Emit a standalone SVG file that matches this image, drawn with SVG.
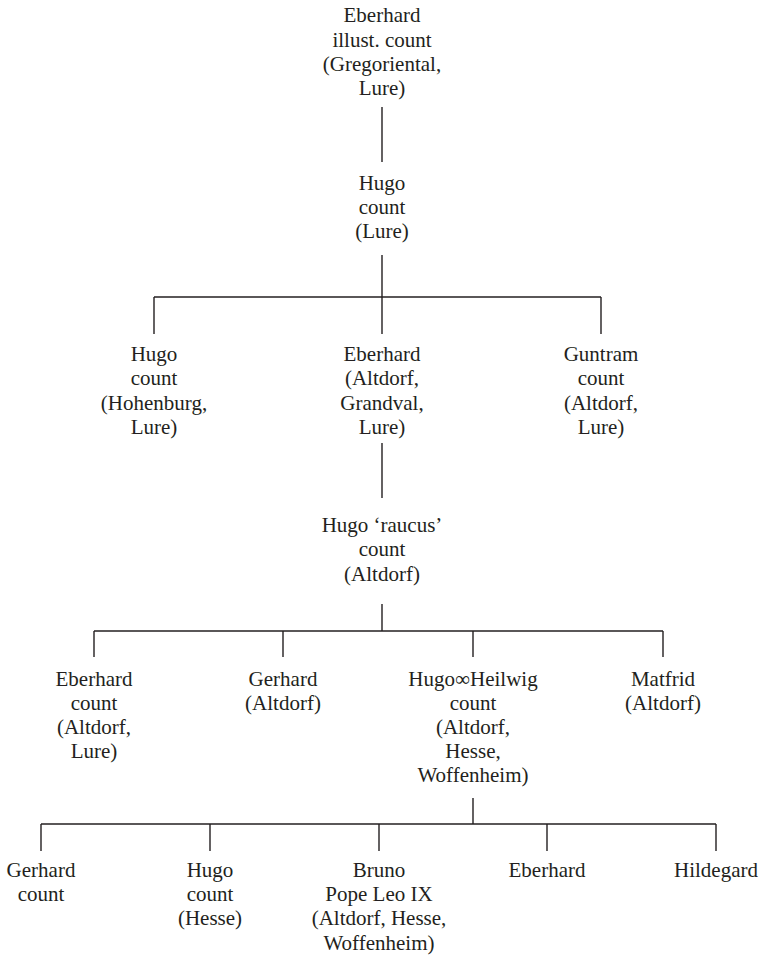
<svg xmlns="http://www.w3.org/2000/svg" width="761" height="955" viewBox="0 0 761 955">
<style>
text{font-size:21px;fill:#231f20;text-anchor:middle}
.c line{stroke:#231f20;stroke-width:1.4;fill:none}
</style>
<rect width="761" height="955" fill="#fff"/>
<g class="c" id="connectors">
<line x1="382" y1="107" x2="382" y2="162"/>
<line x1="382" y1="255" x2="382" y2="297"/>
<line x1="154" y1="297" x2="601" y2="297"/>
<line x1="154" y1="297" x2="154" y2="334"/>
<line x1="382" y1="297" x2="382" y2="334"/>
<line x1="601" y1="297" x2="601" y2="334"/>
<line x1="382" y1="443" x2="382" y2="498"/>
<line x1="382" y1="604" x2="382" y2="631"/>
<line x1="94" y1="631" x2="663" y2="631"/>
<line x1="94" y1="631" x2="94" y2="657"/>
<line x1="283" y1="631" x2="283" y2="657"/>
<line x1="473" y1="631" x2="473" y2="657"/>
<line x1="663" y1="631" x2="663" y2="657"/>
<line x1="473" y1="798" x2="473" y2="824"/>
<line x1="41" y1="824" x2="716" y2="824"/>
<line x1="41" y1="824" x2="41" y2="851"/>
<line x1="210" y1="824" x2="210" y2="851"/>
<line x1="379" y1="824" x2="379" y2="851"/>
<line x1="547" y1="824" x2="547" y2="851"/>
<line x1="716" y1="824" x2="716" y2="851"/>
</g>
<g font-family="'Liberation Serif', 'DejaVu Serif', serif">
<g id="eberhard-top"><text x="382" y="22">Eberhard</text><text x="382" y="47">illust. count</text><text x="382" y="71">(Gregoriental,</text><text x="382" y="95">Lure)</text></g>
<g id="hugo-1"><text x="382" y="190">Hugo</text><text x="382" y="214">count</text><text x="382" y="238">(Lure)</text></g>
<g id="hugo-hohenburg"><text x="154" y="361">Hugo</text><text x="154" y="385">count</text><text x="154" y="410">(Hohenburg,</text><text x="154" y="434">Lure)</text></g>
<g id="eberhard-altdorf"><text x="382" y="361">Eberhard</text><text x="382" y="385">(Altdorf,</text><text x="382" y="410">Grandval,</text><text x="382" y="434">Lure)</text></g>
<g id="guntram"><text x="601" y="361">Guntram</text><text x="601" y="385">count</text><text x="601" y="410">(Altdorf,</text><text x="601" y="434">Lure)</text></g>
<g id="hugo-raucus"><text x="382" y="532">Hugo ‘raucus’</text><text x="382" y="556">count</text><text x="382" y="581">(Altdorf)</text></g>
<g id="eberhard-count"><text x="94" y="686">Eberhard</text><text x="94" y="710">count</text><text x="94" y="734">(Altdorf,</text><text x="94" y="758">Lure)</text></g>
<g id="gerhard-altdorf"><text x="283" y="686">Gerhard</text><text x="283" y="710">(Altdorf)</text></g>
<g id="hugo-heilwig"><text x="473" y="686">Hugo∞Heilwig</text><text x="473" y="710">count</text><text x="473" y="734">(Altdorf,</text><text x="473" y="758">Hesse,</text><text x="473" y="782">Woffenheim)</text></g>
<g id="matfrid"><text x="663" y="686">Matfrid</text><text x="663" y="710">(Altdorf)</text></g>
<g id="gerhard-count"><text x="41" y="877">Gerhard</text><text x="41" y="901">count</text></g>
<g id="hugo-hesse"><text x="210" y="877">Hugo</text><text x="210" y="901">count</text><text x="210" y="925">(Hesse)</text></g>
<g id="bruno"><text x="379" y="877">Bruno</text><text x="379" y="901">Pope Leo IX</text><text x="379" y="925">(Altdorf, Hesse,</text><text x="379" y="950">Woffenheim)</text></g>
<g id="eberhard-bottom"><text x="547" y="877">Eberhard</text></g>
<g id="hildegard"><text x="716" y="877">Hildegard</text></g>
</g>
</svg>
